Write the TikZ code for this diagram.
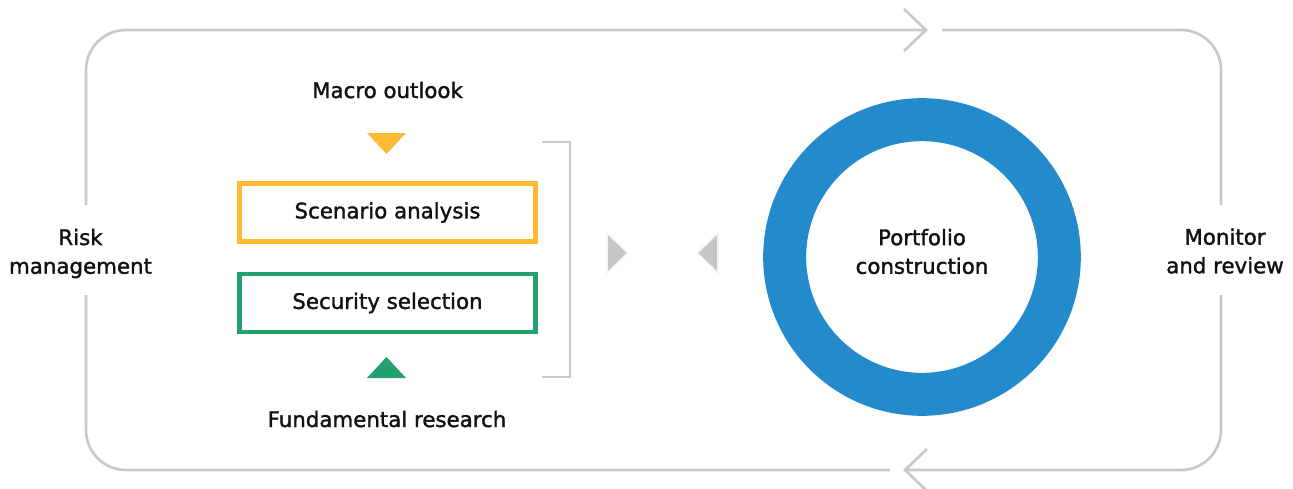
\documentclass[tikz,border=0pt]{standalone}
\usepackage{fontspec}
\setmainfont{DejaVu Sans}[BoldFont={DejaVu Sans},BoldFeatures={FakeBold=1.5}]
\usetikzlibrary{positioning}

\definecolor{loopgray}{HTML}{C8C8C8}
\definecolor{macroyellow}{HTML}{FDBB33}
\definecolor{researchgreen}{HTML}{22A06D}
\definecolor{ringblue}{HTML}{238BCB}
\definecolor{arrowgray}{HTML}{C6C6C8}
\definecolor{textblack}{HTML}{111111}

\begin{document}
\begin{tikzpicture}[x=0.75pt,y=-0.75pt,
  txt/.style={text=textblack,font=\fontsize{16}{21.5}\selectfont\bfseries,inner sep=0pt},
  loopline/.style={draw=loopgray,line width=2pt},
  stepbox/.style={draw=#1,line width=3.4pt,minimum width=222pt,minimum height=43.5pt,
    txt,inner sep=0pt}]

\useasboundingbox (0,0) rectangle (1293,489);

\node[txt,anchor=base] (macro) at (387.5,98){Macro outlook};
\node[stepbox=macroyellow] (scenario) at (387.5,212.5){Scenario analysis};
\node[stepbox=researchgreen] (security) at (387.5,303){Security selection};
\node[txt,anchor=base] (fundamental) at (387,427){Fundamental research};
\node[txt,align=center] (risk) at (80.5,253.5){Risk\\management};
\node[txt,align=center] (monitor) at (1225,251){Monitor\\and review};
\node[circle,draw=ringblue,line width=32.25pt,minimum size=206pt] (ring) at (922,257){};
\node[txt,align=center] (portfolio) at (922,251.5){Portfolio\\construction};

% outer loop
\coordinate (lt) at (86,205);
\coordinate (lb) at (86,295);
\coordinate (rt) at (1221,205);
\coordinate (rb) at (1221,295);
\coordinate (topin) at (926,30);
\coordinate (topout) at (942,30);
\coordinate (botin) at (905,470);
\coordinate (botout) at (890,470);
\draw[loopline,rounded corners=30pt] (lt) |- (topin);
\draw[loopline,rounded corners=30pt] (topout) -| (rt);
\draw[loopline,rounded corners=30pt] (rb) |- (botin);
\draw[loopline,rounded corners=30pt] (botout) -| (lb);
\draw[loopline] (904,9) -- (topin) -- (904,51);
\draw[loopline] (927,449) -- (botin) -- (927,491);

% bracket
\draw[loopline] (542,142) -| (570,377) -- (542,377);

% triangles
\fill[macroyellow] (367,133) -- (406,133) -- (386.5,154) -- cycle;
\fill[researchgreen] (367,378) -- (406,378) -- (386.5,357) -- cycle;
\filldraw[fill=arrowgray,draw=gray!8,line width=1.2pt] (607,233) -- (628,253) -- (607,273) -- cycle;
\filldraw[fill=arrowgray,draw=gray!8,line width=1.2pt] (718,233) -- (697,253) -- (718,273) -- cycle;

\end{tikzpicture}
\end{document}
